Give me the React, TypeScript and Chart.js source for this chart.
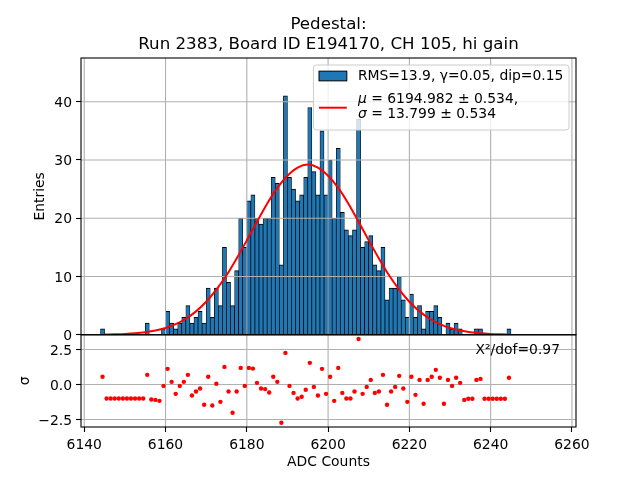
import React, { useEffect, useRef } from "react";
import { Chart, registerables } from "chart.js";

Chart.register(...registerables);

// ---------------- data ----------------
const TITLE_LINES = ["Pedestal:", "Run 2383, Board ID E194170, CH 105, hi gain"];
const X_LABEL = "ADC Counts";
const Y_LABEL = "Entries";
const RES_LABEL = "σ";
const LEGEND_HIST = "RMS=13.9, γ=0.05, dip=0.15";
const LEGEND_FIT_LINES: [string, string][] = [
  ["μ", " = 6194.982 ± 0.534,"],
  ["σ", " = 13.799 ± 0.534"],
];
const CHI2_TEXT = "X²/dof=0.97";

// histogram: unit-width bins, first bin starts at 6144
const FIRST_BIN_EDGE = 6144;
const COUNTS = [
  1, 0, 0, 0, 0, 0, 0, 0, 0, 0, 0, 2, 0, 0, 0, 1,
  4, 2, 1, 2, 3, 5, 2, 3, 4, 2,
  8, 3, 8, 5, 15, 9, 5, 11, 20, 15,
  23, 24, 20, 19, 20, 20, 27, 26, 12, 41,
  27, 25, 23, 24, 27, 39, 28, 24, 35, 24,
  30, 20, 32, 21, 18, 17, 18, 37, 15, 16,
  17, 12, 11, 15, 6, 8, 8, 10, 6, 3,
  7, 3, 5, 1, 4, 4, 5, 3, 0, 2,
  1, 2, 1, 0, 0, 0, 1, 1, 0, 0,
  0, 0, 0, 0, 1,
];
const RESIDUALS = [
  0.55, -1.0, -1.0, -1.0, -1.0, -1.0, -1.0, -1.0, -1.0, -1.0, -1.0, 0.69, -1.07, -1.1, -1.17, -0.1,
  1.12, 0.19, -0.67, -0.1, 0.19, 0.69, -0.79, -0.5, -0.29, -1.45,
  0.55, -1.5, 0.05, -1.24, 1.26, -0.5, -2.02, -0.5, 1.19, -0.1,
  1.19, 1.14, 0.12, -0.29, -0.33, -0.57, 0.55, 0.19, -2.74, 2.26,
  -0.1, -0.6, -1.0, -0.88, -0.38, 1.55, -0.17, -0.79, 1.12, -0.67,
  0.55, -1.17, 1.19, -0.6, -1.0, -1.0, -0.5, 3.26, -0.67, -0.17,
  0.33, -0.6, -0.5, 0.69, -1.45, -0.5, -0.17, 0.62, -0.29, -1.24,
  0.55, -0.74, 0.33, -1.38, 0.33, 0.55, 1.05, 0.48, -1.38, 0.33,
  -0.1, 0.48, 0.12, -1.1, -1.02, -1.02, 0.33, 0.4, -1.02, -1.02,
  -1.02, -1.02, -1.02, -1.02, 0.48,
];

// fitted gaussian
const FIT_X = [
  6145, 6147.5, 6150, 6152.5, 6155, 6157.5, 6160, 6162.5, 6165, 6167.5,
  6170, 6172.5, 6175, 6177.5, 6180, 6182.5, 6185, 6187.5, 6190, 6192.5,
  6195, 6197.5, 6200, 6202.5, 6205, 6207.5, 6210, 6212.5, 6215, 6217.5,
  6220, 6222.5, 6225, 6227.5, 6230, 6232.5, 6235, 6237.5, 6240, 6242.5, 6245,
];
const FIT_Y = [
  0.04, 0.08, 0.14, 0.25, 0.44, 0.73, 1.17, 1.82, 2.75, 4.01,
  5.66, 7.73, 10.2, 13.1, 16.2, 19.4, 22.5, 25.2, 27.3, 28.7,
  29.2, 28.7, 27.3, 25.2, 22.5, 19.4, 16.2, 13.1, 10.2, 7.73,
  5.66, 4.01, 2.75, 1.82, 1.17, 0.73, 0.44, 0.25, 0.14, 0.08, 0.04,
];

const X_TICKS = [6140, 6160, 6180, 6200, 6220, 6240, 6260];
const Y_TICKS = [0, 10, 20, 30, 40];
const RES_TICKS = [-2.5, 0, 2.5];

// ---------------- style ----------------
const FONT_FAMILY = "'DejaVu Sans', 'Liberation Sans', sans-serif";
const FS = 13.9;
const TITLE_FS = 16.67;
const GRID_COLOR = "#b0b0b0";
const BAR_COLOR = "#1f77b4";
const BAR_INDEX = 1;

Chart.defaults.font.family = FONT_FAMILY;
Chart.defaults.font.size = FS;
Chart.defaults.color = "#000";

const fmtRes = (v: number) =>
  v === 0 ? "0.0" : v < 0 ? "\u2212" + Math.abs(v).toFixed(1) : v.toFixed(1);

function drawGrid(chart: any) {
  const { ctx, chartArea, scales } = chart;
  ctx.save();
  ctx.beginPath();
  ctx.rect(chartArea.left, chartArea.top, chartArea.right - chartArea.left, chartArea.bottom - chartArea.top);
  ctx.clip();
  ctx.strokeStyle = GRID_COLOR;
  ctx.lineWidth = 1.1;
  ctx.beginPath();
  X_TICKS.forEach((v) => {
    const px = scales.x.getPixelForValue(v);
    ctx.moveTo(px, chartArea.top);
    ctx.lineTo(px, chartArea.bottom);
  });
  Y_TICKS.forEach((v) => {
    const py = scales.y.getPixelForValue(v);
    ctx.moveTo(chartArea.left, py);
    ctx.lineTo(chartArea.right, py);
  });
  RES_TICKS.forEach((v) => {
    const py = scales.y2.getPixelForValue(v);
    ctx.moveTo(chartArea.left, py);
    ctx.lineTo(chartArea.right, py);
  });
  ctx.stroke();
  ctx.restore();
}

function drawSpines(chart: any) {
  const { ctx, chartArea, scales } = chart;
  const { left, right, top, bottom } = chartArea;
  const mid = scales.y.bottom;
  ctx.save();
  ctx.strokeStyle = "#000";
  ctx.lineWidth = 1.1;
  ctx.strokeRect(left, top, right - left, mid - top);
  ctx.strokeRect(left, mid, right - left, bottom - mid);
  ctx.restore();
}

function drawMixed(ctx: CanvasRenderingContext2D, parts: [string, boolean][], x: number, y: number) {
  let cx = x;
  for (const [t, italic] of parts) {
    ctx.font = `${italic ? "italic " : ""}${FS}px ${FONT_FAMILY}`;
    ctx.fillText(t, cx, y);
    cx += ctx.measureText(t).width;
  }
  return cx - x;
}

function measureMixed(ctx: CanvasRenderingContext2D, parts: [string, boolean][]) {
  let w = 0;
  for (const [t, italic] of parts) {
    ctx.font = `${italic ? "italic " : ""}${FS}px ${FONT_FAMILY}`;
    w += ctx.measureText(t).width;
  }
  return w;
}

function drawTexts(chart: any) {
  const { ctx, chartArea, scales } = chart;
  const cx = (chartArea.left + chartArea.right) / 2;
  ctx.save();
  ctx.fillStyle = "#000";
  // title
  ctx.font = `${TITLE_FS}px ${FONT_FAMILY}`;
  ctx.textAlign = "center";
  ctx.textBaseline = "alphabetic";
  ctx.fillText(TITLE_LINES[0], cx, chartArea.top - 29.5);
  ctx.fillText(TITLE_LINES[1], cx, chartArea.top - 9.5);
  // x label
  ctx.font = `${FS}px ${FONT_FAMILY}`;
  ctx.textBaseline = "middle";
  ctx.fillText(X_LABEL, cx, chartArea.bottom + 35);
  // y labels
  const topMid = (scales.y.top + scales.y.bottom) / 2;
  const botMid = (scales.y2.top + scales.y2.bottom) / 2;
  ctx.save();
  ctx.translate(40, topMid);
  ctx.rotate(-Math.PI / 2);
  ctx.fillText(Y_LABEL, 0, 0);
  ctx.restore();
  ctx.save();
  ctx.translate(25, botMid);
  ctx.rotate(-Math.PI / 2);
  ctx.fillText(RES_LABEL, 0, 0);
  ctx.restore();
  // chi2
  ctx.textAlign = "right";
  ctx.fillText(CHI2_TEXT, chartArea.right - 16, scales.y2.top + 15.5);
  ctx.restore();
}

function drawLegend(chart: any) {
  const { ctx, chartArea } = chart;
  const pad = 5.56;
  const handleLen = 27.8;
  const handleGap = 11.1;
  ctx.save();
  ctx.font = `${FS}px ${FONT_FAMILY}`;
  const w1 = ctx.measureText(LEGEND_HIST).width;
  const wFit = Math.max(
    ...LEGEND_FIT_LINES.map((l) => measureMixed(ctx, [[l[0], true], [l[1], false]]))
  );
  const textW = Math.max(w1, wFit);
  const boxW = pad + handleLen + handleGap + textW + pad;
  const boxH = 65;
  const right = chartArea.right - 7;
  const top = chartArea.top + 7;
  const left = right - boxW;

  ctx.beginPath();
  (ctx as any).roundRect(left, top, boxW, boxH, 3);
  ctx.fillStyle = "rgba(255,255,255,0.8)";
  ctx.fill();
  ctx.strokeStyle = "#cccccc";
  ctx.lineWidth = 1;
  ctx.stroke();

  const hx = left + pad;
  const tx = hx + handleLen + handleGap;
  // histogram patch
  const r1 = top + 11;
  ctx.fillStyle = BAR_COLOR;
  ctx.fillRect(hx, r1 - 4.85, handleLen, 9.7);
  ctx.strokeStyle = "#000";
  ctx.lineWidth = 1;
  ctx.strokeRect(hx, r1 - 4.85, handleLen, 9.7);
  ctx.fillStyle = "#000";
  ctx.textAlign = "left";
  ctx.textBaseline = "middle";
  ctx.font = `${FS}px ${FONT_FAMILY}`;
  ctx.fillText(LEGEND_HIST, tx, r1);
  // fit line
  const lineY = top + 42.7;
  ctx.strokeStyle = "red";
  ctx.lineWidth = 2;
  ctx.beginPath();
  ctx.moveTo(hx, lineY);
  ctx.lineTo(hx + handleLen, lineY);
  ctx.stroke();
  ctx.fillStyle = "#000";
  drawMixed(ctx, [[LEGEND_FIT_LINES[0][0], true], [LEGEND_FIT_LINES[0][1], false]], tx, top + 34.3);
  drawMixed(ctx, [[LEGEND_FIT_LINES[1][0], true], [LEGEND_FIT_LINES[1][1], false]], tx, top + 49);
  ctx.restore();
}

const decorPlugin = {
  id: "decor",
  afterDatasetDraw(chart: any, args: any) {
    if (args.index === BAR_INDEX) drawGrid(chart);
  },
  afterDatasetsDraw(chart: any) {
    drawSpines(chart);
  },
  afterDraw(chart: any) {
    drawTexts(chart);
    drawLegend(chart);
  },
};

export default function App() {
  const ref = useRef<HTMLCanvasElement>(null);

  useEffect(() => {
    const canvas = ref.current;
    if (!canvas) return;
    const centers = COUNTS.map((_, i) => FIRST_BIN_EDGE + i + 0.5);
    const tickFont = { family: FONT_FAMILY, size: FS };
    const gridCommon = {
      drawOnChartArea: false,
      drawTicks: true,
      tickLength: 5,
      tickColor: "#000",
      tickWidth: 1.1,
      offset: false,
    };
    const chart = new Chart(canvas, {
      type: "bar",
      data: {
        datasets: [
          {
            type: "line",
            label: "fit",
            data: FIT_X.map((x, i) => ({ x, y: FIT_Y[i] })),
            yAxisID: "y",
            borderColor: "red",
            borderWidth: 2,
            pointRadius: 0,
            fill: false,
            cubicInterpolationMode: "monotone",
            order: 1,
          } as any,
          {
            type: "bar",
            label: "hist",
            data: centers.map((x, i) => ({ x, y: COUNTS[i] })),
            yAxisID: "y",
            backgroundColor: BAR_COLOR,
            borderColor: "#000",
            borderWidth: { top: 1, left: 0.7, right: 0.7, bottom: 0 },
            borderSkipped: "start",
            barPercentage: 1,
            categoryPercentage: 1,
            order: 3,
          } as any,
          {
            type: "scatter",
            label: "residuals",
            data: centers.map((x, i) => ({ x, y: RESIDUALS[i] })),
            yAxisID: "y2",
            backgroundColor: "red",
            borderColor: "red",
            borderWidth: 0,
            pointRadius: 2.2,
            showLine: false,
            order: 2,
          } as any,
        ],
      },
      options: {
        animation: false,
        responsive: false,
        maintainAspectRatio: false,
        layout: { padding: { left: 0, right: 64, top: 58, bottom: 0 } },
        plugins: {
          legend: { display: false },
          tooltip: { enabled: false },
          title: { display: false },
        },
        scales: {
          x: {
            type: "linear",
            min: 6139.2,
            max: 6261,
            offset: false,
            grid: gridCommon,
            border: { display: false },
            ticks: {
              font: tickFont,
              color: "#000",
              padding: 5,
              maxRotation: 0,
              autoSkip: false,
              callback: (v: any) => String(v),
            },
            afterBuildTicks: (s: any) => {
              s.ticks = X_TICKS.map((v) => ({ value: v }));
            },
            afterFit: (s: any) => {
              s.height = 53;
            },
          },
          y: {
            type: "linear",
            position: "left",
            stack: "panels",
            stackWeight: 3,
            weight: 1,
            min: 0,
            max: 47.5,
            grid: gridCommon,
            border: { display: false },
            ticks: {
              font: tickFont,
              color: "#000",
              padding: 4,
              labelOffset: 1.5,
              callback: (v: any) => String(v),
            },
            afterBuildTicks: (s: any) => {
              s.ticks = Y_TICKS.map((v) => ({ value: v }));
            },
            afterFit: (s: any) => {
              s.width = 81;
            },
          },
          y2: {
            type: "linear",
            position: "left",
            stack: "panels",
            stackWeight: 1,
            weight: 0,
            min: -3.04,
            max: 3.56,
            grid: gridCommon,
            border: { display: false },
            ticks: {
              font: tickFont,
              color: "#000",
              padding: 4,
              labelOffset: 1.5,
              callback: (v: any) => fmtRes(Number(v)),
            },
            afterBuildTicks: (s: any) => {
              s.ticks = RES_TICKS.map((v) => ({ value: v }));
            },
            afterFit: (s: any) => {
              s.width = 81;
            },
          },
        },
      } as any,
      plugins: [decorPlugin],
    });
    return () => chart.destroy();
  }, []);

  return (
    <div style={{ position: "absolute", left: 0, top: 0, width: 640, height: 480, background: "#fff" }}>
      <canvas ref={ref} width={640} height={480} style={{ display: "block", width: 640, height: 480 }} />
    </div>
  );
}
